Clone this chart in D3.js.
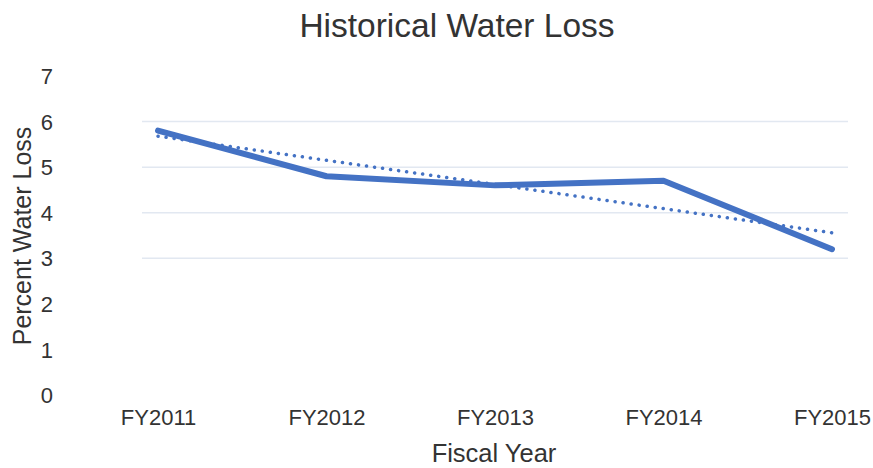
<!DOCTYPE html>
<html lang="en">
<head>
    <meta charset="UTF-8">
    <title>Historical Water Loss</title>
    <style>
        body { margin: 0; background: #fff; }
        text { font-family: "Liberation Sans", Arial, sans-serif; fill: #333; }
    </style>
</head>
<body>
    <script src="https://d3js.org/d3.v7.min.js"></script>
    <script>
        const width = 873;
        const height = 468;

        const years = ["FY2011", "FY2012", "FY2013", "FY2014", "FY2015"];
        const loss = [5.8, 4.8, 4.6, 4.7, 3.2];
        const yTicks = [0, 1, 2, 3, 4, 5, 6, 7];
        const gridTicks = [3, 4, 5, 6];

        // linear trendline (least squares) like excel
        const n = loss.length;
        const mx = (n - 1) / 2;
        const my = d3.mean(loss);
        const slope = d3.sum(loss, (v, i) => (i - mx) * (v - my)) / d3.sum(loss, (v, i) => (i - mx) * (i - mx));
        const trend = loss.map((v, i) => my + slope * (i - mx));

        const svg = d3.select("body")
            .append("svg")
            .attr("width", width)
            .attr("height", height);

        const x = d3.scalePoint().domain(years).range([158, 832]);
        const y = d3.scaleLinear().domain([0, 7]).range([395, 76]);

        // faint gridlines
        svg.append("g")
            .selectAll("line")
            .data(gridTicks)
            .enter()
            .append("line")
            .attr("x1", 142)
            .attr("x2", 848)
            .attr("y1", d => y(d))
            .attr("y2", d => y(d))
            .attr("stroke", "#e2e8f1")
            .attr("stroke-width", 1.5);

        // y axis labels
        const yAxis = svg.append("g")
            .attr("transform", "translate(53,0)")
            .call(d3.axisLeft(y).tickValues(yTicks).tickFormat(d3.format("d")).tickSize(0).tickPadding(0));
        yAxis.select(".domain").remove();
        yAxis.selectAll("text")
            .attr("font-size", 22)
            .attr("dy", "0.35em");

        // x axis labels
        const xAxis = svg.append("g")
            .attr("transform", "translate(0,409)")
            .call(d3.axisBottom(x).tickSize(0).tickPadding(0));
        xAxis.select(".domain").remove();
        xAxis.selectAll("text")
            .attr("font-size", 22)
            .attr("dy", "0.71em");

        // trendline
        svg.append("path")
            .datum(trend)
            .attr("fill", "none")
            .attr("stroke", "#4472c4")
            .attr("stroke-width", 3.5)
            .attr("stroke-linecap", "round")
            .attr("stroke-dasharray", "0.1 8")
            .attr("d", d3.line().x((d, i) => x(years[i])).y(d => y(d)));

        // data line
        svg.append("path")
            .datum(loss)
            .attr("fill", "none")
            .attr("stroke", "#4472c4")
            .attr("stroke-width", 6)
            .attr("stroke-linecap", "round")
            .attr("stroke-linejoin", "round")
            .attr("d", d3.line().x((d, i) => x(years[i])).y(d => y(d)));

        // titles
        svg.append("text")
            .attr("x", 457)
            .attr("y", 37)
            .attr("text-anchor", "middle")
            .attr("font-size", 33.5)
            .text("Historical Water Loss");

        svg.append("text")
            .attr("x", 494)
            .attr("y", 462)
            .attr("text-anchor", "middle")
            .attr("font-size", 25.5)
            .text("Fiscal Year");

        svg.append("text")
            .attr("transform", "translate(31,236) rotate(-90)")
            .attr("text-anchor", "middle")
            .attr("font-size", 25)
            .text("Percent Water Loss");
    </script>
</body>
</html>
